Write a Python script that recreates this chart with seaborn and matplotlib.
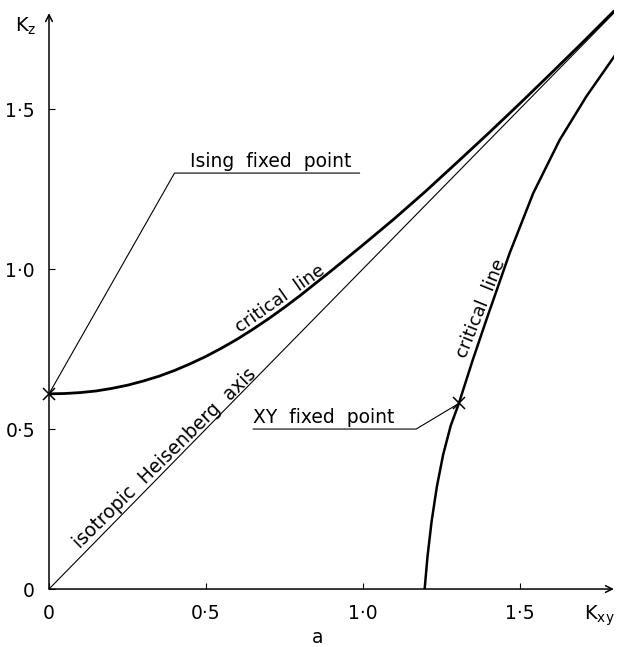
import matplotlib
matplotlib.use("Agg")
import matplotlib.pyplot as plt
import seaborn as sns

# upper critical line (from the Ising fixed point)
upper_x = [0.0, 0.05, 0.1, 0.15, 0.2, 0.25, 0.3, 0.35, 0.4, 0.45, 0.5, 0.55, 0.6, 0.65, 0.7,
           0.75, 0.8, 0.9, 1.0, 1.1, 1.2, 1.3, 1.4, 1.5, 1.6, 1.7, 1.8]
upper_y = [0.610, 0.611, 0.614, 0.619, 0.627, 0.637, 0.650, 0.665, 0.683, 0.704, 0.727, 0.753,
           0.781, 0.812, 0.845, 0.880, 0.917, 0.995, 1.075, 1.157, 1.243, 1.333, 1.424, 1.517,
           1.612, 1.708, 1.806]

# lower critical line (through the XY fixed point)
lower_x = [1.197, 1.206, 1.219, 1.236, 1.256, 1.280, 1.306, 1.350, 1.395, 1.468, 1.543, 1.627, 1.712, 1.808]
lower_y = [0.0, 0.10, 0.21, 0.32, 0.42, 0.51, 0.58, 0.715, 0.845, 1.05, 1.237, 1.403, 1.539, 1.674]

# isotropic Heisenberg axis
heis_x = [0.0, 1.8]
heis_y = [0.0, 1.8]

# fixed points and their leader lines
ising_pt = (0.0, 0.61)
xy_pt = (1.306, 0.58)
ising_lead_x = [0.0, 0.40, 0.99]
ising_lead_y = [0.61, 1.30, 1.30]
xy_lead_x = [1.306, 1.17, 0.65]
xy_lead_y = [0.58, 0.50, 0.50]

tick_vals = [0, 0.5, 1.0, 1.5]
tick_labels = ["0", "0·5", "1·0", "1·5"]

sns.set_theme(style="white")
plt.rcParams["font.family"] = ["DejaVu Sans"]
plt.rcParams["text.color"] = "black"

fig = plt.figure(figsize=(6.18, 6.47), dpi=100)
ax = fig.add_axes([0.0793, 0.0896, 0.914, 0.905])

sns.lineplot(x=upper_x, y=upper_y, ax=ax, color="black", lw=2.0, sort=False)
sns.lineplot(x=lower_x, y=lower_y, ax=ax, color="black", lw=1.8, sort=False)
sns.lineplot(x=heis_x, y=heis_y, ax=ax, color="black", lw=0.8, sort=False)
ax.plot(ising_lead_x, ising_lead_y, color="black", lw=0.8)
ax.plot(xy_lead_x, xy_lead_y, color="black", lw=0.8)
ax.plot(*ising_pt, marker="x", ms=9, mew=1.1, color="black", clip_on=False)
ax.plot(*xy_pt, marker="x", ms=9, mew=1.1, color="black")

ax.set_xlim(0, 1.8)
ax.set_ylim(0, 1.83)

# axes drawn as arrows
for s in ax.spines.values():
    s.set_visible(False)
ax.annotate("", xy=(1.8, 0), xytext=(0, 0),
            arrowprops=dict(arrowstyle="->", lw=1.1, color="black", shrinkA=0, shrinkB=0))
ax.annotate("", xy=(0, 1.80), xytext=(0, 0),
            arrowprops=dict(arrowstyle="->", lw=1.1, color="black", shrinkA=0, shrinkB=0))

ax.set_xticks(tick_vals)
ax.set_xticklabels(tick_labels)
ax.set_yticks(tick_vals)
ax.set_yticklabels(tick_labels)
ax.tick_params(axis="both", direction="in", length=4, width=0.8, color="black",
               labelsize=13.5, labelcolor="black")
ax.tick_params(axis="x", pad=11, bottom=True)
ax.tick_params(axis="y", pad=10, left=True)
ax.grid(False)

# axis names
ax.text(-0.075, 1.76, "K$_\\mathregular{z}$", fontsize=14, ha="center", va="center")
ax.text(1.755, -0.083, "K$_\\mathregular{xy}$", fontsize=14, ha="center", va="center", clip_on=False)
ax.text(0.855, -0.15, "a", fontsize=13.5, ha="center", va="center", clip_on=False)

# curve labels
ax.text(0.745, 0.895, "critical  line", fontsize=13, rotation=35, rotation_mode="anchor",
        ha="center", va="baseline")
ax.text(0.38, 0.395, "isotropic  Heisenberg  axis", fontsize=13.5, rotation=44.5,
        rotation_mode="anchor", ha="center", va="baseline")
ax.text(1.39, 0.87, "critical  line", fontsize=13, rotation=68, rotation_mode="anchor",
        ha="center", va="baseline")
ax.text(0.45, 1.305, "Ising  fixed  point", fontsize=13.5, ha="left", va="bottom")
ax.text(0.65, 0.505, "XY  fixed  point", fontsize=13.5, ha="left", va="bottom")

fig.savefig("out.png", dpi=100)
